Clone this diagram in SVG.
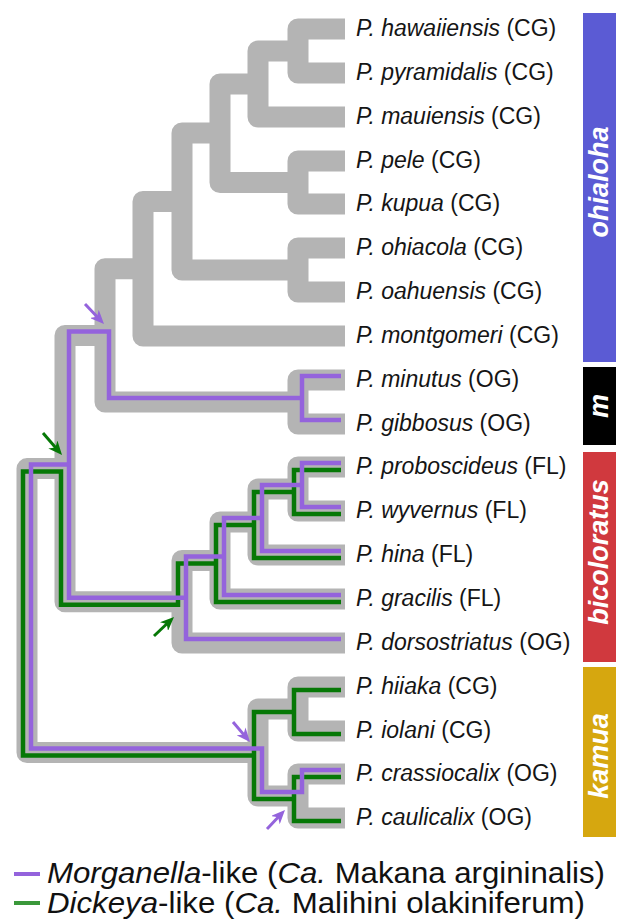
<svg xmlns="http://www.w3.org/2000/svg" width="625" height="919" viewBox="0 0 625 919">
<style>
.gray{fill:none;stroke:#b4b4b4;stroke-width:21;stroke-linejoin:round;stroke-linecap:butt}
.pu{fill:none;stroke:#9463dc;stroke-width:4.5;stroke-linejoin:miter}
.gr{fill:none;stroke:#067806;stroke-width:4.5;stroke-linejoin:miter}
.lab{font-family:"Liberation Sans",Arial,sans-serif;font-size:23px;fill:#151515}
.lab .i{font-style:italic}
.clade{font-family:"Liberation Sans",Arial,sans-serif;font-size:27px;font-weight:bold;font-style:italic;fill:#fff;text-anchor:middle}
.leg{font-family:"Liberation Sans",Arial,sans-serif;font-size:30px;fill:#111}
.leg .i{font-style:italic}
.arp{stroke:#9463dc;stroke-width:3;fill:none}
.arg{stroke:#067806;stroke-width:3;fill:none}
</style>
<defs>
<marker id="mp" markerUnits="userSpaceOnUse" markerWidth="14" markerHeight="12" refX="6" refY="6" orient="auto" viewBox="0 0 14 12"><path d="M0,0 L14,6 L0,12 L4,6 Z" fill="#9463dc"/></marker>
<marker id="mg" markerUnits="userSpaceOnUse" markerWidth="14" markerHeight="12" refX="6" refY="6" orient="auto" viewBox="0 0 14 12"><path d="M0,0 L14,6 L0,12 L4,6 Z" fill="#067806"/></marker>
</defs>
<g id="connectors">
<g id="gray-tree">
<path class="gray" d="M345,29 H298 V73 H345"/>
<path class="gray" d="M298,51 H258 V117 H345"/>
<path class="gray" d="M345,161 H298 V204 H345"/>
<path class="gray" d="M258,84 H220 V182.5 H298"/>
<path class="gray" d="M345,248 H298 V292 H345"/>
<path class="gray" d="M220,133 H182 V270 H298"/>
<path class="gray" d="M182,201.5 H143 V336 H345"/>
<path class="gray" d="M345,380 H298 V424 H345"/>
<path class="gray" d="M143,268.75 H105 V402 H298"/>
<path class="gray" d="M345,467 H298 V511 H345"/>
<path class="gray" d="M298,489 H258 V555 H345"/>
<path class="gray" d="M258,522 H220 V599 H345"/>
<path class="gray" d="M220,560.5 H182 V643 H345"/>
<path class="gray" d="M105,335.4 H65 V601.75 H182"/>
<path class="gray" d="M345,687 H298 V731 H345"/>
<path class="gray" d="M345,774 H298 V818 H345"/>
<path class="gray" d="M298,709 H258 V796 H298"/>
<path class="gray" d="M65,468.6 H27 V752.5 H258"/>
</g>
<g id="dickeya-lines">
<path class="gr" d="M341,470 H294 V514 H341"/>
<path class="gr" d="M341,558 H254 V492 H294"/>
<path class="gr" d="M341,602 H216 V525 H254"/>
<path class="gr" d="M216,563.5 H178 V604.75 H61 V471.6 H23 V755.5 H254"/>
<path class="gr" d="M294,712 H254 V799 H294"/>
<path class="gr" d="M341,690 H294 V734 H341"/>
<path class="gr" d="M341,777 H294 V821 H341"/>
</g>
<g id="morganella-lines">
<path class="pu" d="M341,376 H302 V420 H341"/>
<path class="pu" d="M302,398 H109 V331.4 H69 V597.75 H186"/>
<path class="pu" d="M69,464.6 H31 V748.5 H262 V792 H302 V770 H341"/>
<path class="pu" d="M341,639 H186 V556.5 H224"/>
<path class="pu" d="M341,595 H224 V518 H262"/>
<path class="pu" d="M341,551 H262 V485 H302"/>
<path class="pu" d="M341,507 H302 V463 H341"/>
</g>
<g id="arrows">
<line class="arp" x1="85" y1="304" x2="98.5" y2="318.2" marker-end="url(#mp)"/>
<line class="arg" x1="43" y1="433" x2="56.8" y2="449" marker-end="url(#mg)"/>
<line class="arg" x1="154" y1="636" x2="168.2" y2="622.5" marker-end="url(#mg)"/>
<line class="arp" x1="233" y1="722" x2="244.8" y2="735.9" marker-end="url(#mp)"/>
<line class="arp" x1="267" y1="829" x2="279.5" y2="815.8" marker-end="url(#mp)"/>
</g>
</g>
<g id="leaves" class="lab">
<g id="leaf-hawaiiensis"><text x="356" y="36"><tspan class="i">P. hawaiiensis</tspan> (CG)</text></g>
<g id="leaf-pyramidalis"><text x="356" y="80"><tspan class="i">P. pyramidalis</tspan> (CG)</text></g>
<g id="leaf-mauiensis"><text x="356" y="124"><tspan class="i">P. mauiensis</tspan> (CG)</text></g>
<g id="leaf-pele"><text x="356" y="168"><tspan class="i">P. pele</tspan> (CG)</text></g>
<g id="leaf-kupua"><text x="356" y="211"><tspan class="i">P. kupua</tspan> (CG)</text></g>
<g id="leaf-ohiacola"><text x="356" y="255"><tspan class="i">P. ohiacola</tspan> (CG)</text></g>
<g id="leaf-oahuensis"><text x="356" y="299"><tspan class="i">P. oahuensis</tspan> (CG)</text></g>
<g id="leaf-montgomeri"><text x="356" y="343"><tspan class="i">P. montgomeri</tspan> (CG)</text></g>
<g id="leaf-minutus"><text x="356" y="387"><tspan class="i">P. minutus</tspan> (OG)</text></g>
<g id="leaf-gibbosus"><text x="356" y="431"><tspan class="i">P. gibbosus</tspan> (OG)</text></g>
<g id="leaf-proboscideus"><text x="356" y="474"><tspan class="i">P. proboscideus</tspan> (FL)</text></g>
<g id="leaf-wyvernus"><text x="356" y="518"><tspan class="i">P. wyvernus</tspan> (FL)</text></g>
<g id="leaf-hina"><text x="356" y="562"><tspan class="i">P. hina</tspan> (FL)</text></g>
<g id="leaf-gracilis"><text x="356" y="606"><tspan class="i">P. gracilis</tspan> (FL)</text></g>
<g id="leaf-dorsostriatus"><text x="356" y="650"><tspan class="i">P. dorsostriatus</tspan> (OG)</text></g>
<g id="leaf-hiiaka"><text x="356" y="694"><tspan class="i">P. hiiaka</tspan> (CG)</text></g>
<g id="leaf-iolani"><text x="356" y="738"><tspan class="i">P. iolani</tspan> (CG)</text></g>
<g id="leaf-crassiocalix"><text x="356" y="781"><tspan class="i">P. crassiocalix</tspan> (OG)</text></g>
<g id="leaf-caulicalix"><text x="356" y="825"><tspan class="i">P. caulicalix</tspan> (OG)</text></g>
</g>
<g id="clade-ohialoha"><rect x="583" y="13" width="33" height="349" fill="#5b5bd4"/><text class="clade" transform="translate(608,182) rotate(-90)">ohialoha</text></g>
<g id="clade-m"><rect x="583" y="367" width="33" height="78" fill="#000"/><text class="clade" transform="translate(608,406) rotate(-90)">m</text></g>
<g id="clade-bicoloratus"><rect x="583" y="452" width="33" height="210" fill="#d0393e"/><text class="clade" transform="translate(608,552) rotate(-90)">bicoloratus</text></g>
<g id="clade-kamua"><rect x="583" y="667" width="33" height="170" fill="#d6a70f"/><text class="clade" transform="translate(608,756) rotate(-90)">kamua</text></g>
<g id="legend">
<line x1="14" y1="874" x2="40" y2="874" stroke="#9463dc" stroke-width="4"/>
<text class="leg" x="47" y="883" textLength="558" lengthAdjust="spacingAndGlyphs"><tspan class="i">Morganella</tspan>-like (<tspan class="i">Ca.</tspan> Makana argininalis)</text>
<line x1="14" y1="903" x2="40" y2="903" stroke="#3a983a" stroke-width="4"/>
<text class="leg" x="47" y="913" textLength="538" lengthAdjust="spacingAndGlyphs"><tspan class="i">Dickeya</tspan>-like (<tspan class="i">Ca.</tspan> Malihini olakiniferum)</text>
</g>
</svg>
